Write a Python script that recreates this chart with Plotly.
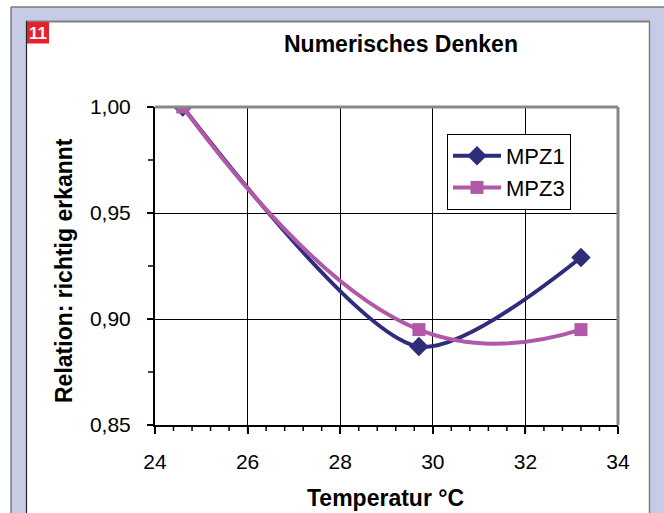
import plotly.graph_objects as go

# ---- data ----
temperature = [24.6, 29.7, 33.2]
mpz1 = [1.000, 0.887, 0.929]
mpz3 = [1.000, 0.895, 0.895]
series_names = ["MPZ1", "MPZ3"]
x_ticks = [24, 26, 28, 30, 32, 34]
y_ticks = [0.85, 0.90, 0.95, 1.00]
y_ticktext = ["0,85", "0,90", "0,95", "1,00"]

X_RANGE = [24, 34]
Y_RANGE = [0.85, 1.0]

W, H = 664, 513
L, R, T, B = 155, 618, 107, 425  # plot area in pixels
FONT = "Liberation Sans, Arial"


def px(x):
    return (x - L) / (R - L)


def py(y):
    return (B - y) / (B - T)


def xfrac(v):
    return (v - X_RANGE[0]) / (X_RANGE[1] - X_RANGE[0])


def yfrac(v):
    return (v - Y_RANGE[0]) / (Y_RANGE[1] - Y_RANGE[0])


fig = go.Figure()
fig.add_trace(go.Scatter(
    x=temperature, y=mpz1, name=series_names[0], mode="lines+markers",
    line=dict(color="#302C7C", width=4, shape="spline", smoothing=0.75),
    marker=dict(symbol="diamond", size=15, color="#302C7C"),
))
fig.add_trace(go.Scatter(
    x=temperature, y=mpz3, name=series_names[1], mode="lines+markers",
    line=dict(color="#B159A8", width=4, shape="spline", smoothing=1.3),
    marker=dict(symbol="square", size=13, color="#B159A8"),
))

LAV = "#C7CBE5"
shapes = [
    dict(type="rect", xref="paper", yref="paper", x0=px(11), x1=px(700), y0=py(7), y1=py(21),
         fillcolor=LAV, line=dict(width=0)),
    dict(type="rect", xref="paper", yref="paper", x0=px(11), x1=px(26), y0=py(7), y1=py(540),
         fillcolor=LAV, line=dict(width=0)),
    dict(type="rect", xref="paper", yref="paper", x0=px(650), x1=px(700), y0=py(7), y1=py(540),
         fillcolor=LAV, line=dict(width=0)),
    dict(type="line", xref="paper", yref="paper", x0=px(11), x1=px(700), y0=py(7), y1=py(7),
         line=dict(color="#7A7A7A", width=1.5)),
    dict(type="line", xref="paper", yref="paper", x0=px(11), x1=px(11), y0=py(7), y1=py(540),
         line=dict(color="#7A7A7A", width=1.5)),
    dict(type="line", xref="paper", yref="paper", x0=px(26), x1=px(650), y0=py(21.5), y1=py(21.5),
         line=dict(color="#808080", width=2)),
    dict(type="line", xref="paper", yref="paper", x0=px(26.5), x1=px(26.5), y0=py(21), y1=py(540),
         line=dict(color="#222222", width=1.2)),
    dict(type="line", xref="paper", yref="paper", x0=px(649.5), x1=px(649.5), y0=py(21), y1=py(540),
         line=dict(color="#808080", width=1.5)),
    dict(type="rect", xref="paper", yref="paper", x0=px(27), x1=px(49), y0=py(22), y1=py(43.5),
         fillcolor="#E8202A", line=dict(width=0)),
    dict(type="line", xref="paper", yref="paper", x0=0, x1=1, y0=1, y1=1,
         line=dict(color="#888888", width=3)),
    dict(type="line", xref="paper", yref="paper", x0=1, x1=1, y0=0, y1=1,
         line=dict(color="#888888", width=3)),
]

# axis tick marks (major + minor), positioned from the axis ranges
x_minor_step = 0.4
n_xminor = int(round((X_RANGE[1] - X_RANGE[0]) / x_minor_step))
for k in range(n_xminor + 1):
    v = X_RANGE[0] + k * x_minor_step
    is_major = any(abs(v - t) < 1e-6 for t in x_ticks)
    ln = 8 if is_major else 6
    f = xfrac(v)
    shapes.append(dict(type="line", xref="paper", yref="paper", x0=f, x1=f,
                       y0=-1 / (B - T), y1=-ln / (B - T),
                       line=dict(color="black", width=1.5)))
y_minor_step = 0.025
n_yminor = int(round((Y_RANGE[1] - Y_RANGE[0]) / y_minor_step))
for k in range(n_yminor + 1):
    v = Y_RANGE[0] + k * y_minor_step
    f = yfrac(v)
    shapes.append(dict(type="line", xref="paper", yref="paper", x0=-1 / (R - L), x1=-7 / (R - L),
                       y0=f, y1=f, line=dict(color="black", width=1.5)))

annotations = [
    dict(text="<b>11</b>", xref="paper", yref="paper", x=px(38), y=py(33), showarrow=False,
         font=dict(family=FONT, size=17, color="white"),
         xanchor="center", yanchor="middle"),
    dict(text="<b>Numerisches Denken</b>", xref="paper", yref="paper", x=px(400.5), y=py(44),
         showarrow=False, font=dict(family=FONT, size=23, color="black"),
         xanchor="center", yanchor="middle"),
    dict(text="<b>Temperatur °C</b>", xref="paper", yref="paper", x=px(385), y=py(498),
         showarrow=False, font=dict(family=FONT, size=23, color="black"),
         xanchor="center", yanchor="middle"),
    dict(text="<b>Relation: richtig erkannt</b>", xref="paper", yref="paper", x=px(64), y=py(271),
         showarrow=False, textangle=-90,
         font=dict(family=FONT, size=23, color="black"),
         xanchor="center", yanchor="middle"),
]

fig.update_layout(
    width=W, height=H,
    margin=dict(l=L, r=W - R, t=T, b=H - B, pad=0, autoexpand=False),
    paper_bgcolor="white", plot_bgcolor="white",
    shapes=shapes, annotations=annotations,
    showlegend=True,
    legend=dict(x=px(447), y=py(134), xanchor="left", yanchor="top",
                bgcolor="white", bordercolor="black", borderwidth=1,
                font=dict(family=FONT, size=22, color="black"),
                itemwidth=48, tracegroupgap=4),
    xaxis=dict(range=X_RANGE, tickmode="array", tickvals=x_ticks,
               ticktext=[str(t) for t in x_ticks],
               tickfont=dict(family=FONT, size=21, color="black"),
               showgrid=True, gridcolor="black", gridwidth=1,
               showline=True, linecolor="black", linewidth=2,
               ticks="outside", ticklen=7, tickcolor="black", tickwidth=1.5,
               ticklabelstandoff=10, zeroline=False),
    yaxis=dict(range=Y_RANGE, tickmode="array", tickvals=y_ticks, ticktext=y_ticktext,
               tickfont=dict(family=FONT, size=21, color="black"),
               showgrid=True, gridcolor="black", gridwidth=1,
               showline=True, linecolor="black", linewidth=2,
               ticks="outside", ticklen=6, tickcolor="black", tickwidth=1.5,
               ticklabelstandoff=12, zeroline=False),
)

fig.write_html("out.html")
